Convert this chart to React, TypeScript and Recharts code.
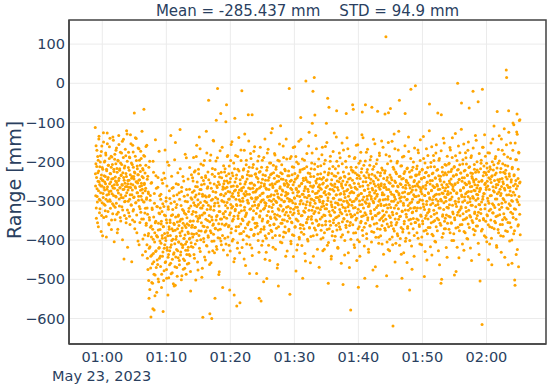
import React from 'react';
import { ScatterChart, Scatter, XAxis, YAxis, CartesianGrid, ReferenceArea } from 'recharts';

// minutes relative to 01:00 (May 23, 2023)
const blockStarts = [-1.1, 4, 9, 14, 19, 24, 29, 34, 39, 44, 49, 54, 59];
const blockEnds = [4, 9, 14, 19, 24, 29, 34, 39, 44, 49, 54, 59, 65.3];

// first pass of samples, one array per block
const r0059 = [
  -113, -262, -205, -318, -240, -171, -289, -356, -228, -196,
  -274, -142, -251, -330, -213, -298, -185, -262, -378, -234,
  -160, -305, -247, -219, -281, -126, -342, -266, -201, -252,
  -311, -238, -178, -296, -392, -223, -270, -154, -245, -327,
  -209, -283, -361, -192, -256, -140, -301, -231, -275, -214,
  -349, -188, -262, -307, -137, -243, -286, -219, -404, -268,
  -181, -316, -249, -205, -290, -165, -334, -227, -259, -372,
  -198, -280, -133, -242, -313, -218, -266, -176, -351, -235,
  -291, -207, -258, -148, -323, -271, -189, -240, -448, -216,
  -302, -255, -168, -287, -230, -345, -121, -263, -199, -418,
];
const r0104 = [
  -248, -301, -176, -265, -222, -339, -190, -284, -131, -257,
  -310, -203, -455, -238, -272, -158, -326, -214, -291, -244,
  -76, -353, -229, -186, -267, -305, -141, -252, -381, -211,
  -279, -233, -165, -298, -247, -412, -196, -263, -320, -225,
  -173, -288, -255, -346, -122, -270, -217, -397, -241, -302,
  -66, -258, -186, -331, -274, -429, -209, -362, -296, -158,
  -318, -446, -237, -389, -281, -503, -548, -342, -199, -417,
  -286, -471, -596, -364, -253, -438, -322, -510, -575, -398,
  -227, -455, -578, -306, -381, -489, -144, -352, -427, -268,
  -533, -391, -315, -462, -240, -374, -506, -331, -419, -287,
];
const r0109 = [
  -402, -318, -467, -283, -359, -521, -246, -388, -441, -307,
  -582, -365, -229, -478, -336, -412, -170, -394, -455, -301,
  -348, -497, -262, -426, -381, -540, -315, -437, -209, -372,
  -463, -294, -355, -418, -133, -486, -337, -401, -268, -449,
  -322, -376, -511, -287, -432, -360, -195, -468, -515, -341,
  -398, -256, -424, -309, -492, -371, -228, -445, -336, -405,
  -279, -463, -352, -118, -389, -430, -312, -501, -265, -377,
  -346, -419, -238, -474, -325, -396, -288, -452, -363, -181,
  -410, -334, -487, -271, -437, -358, -302, -426, -244, -383,
  -459, -319, -397, -215, -440, -351, -530, -292, -416, -367,
];
const r0114 = [
  -296, -362, -241, -418, -327, -189, -385, -274, -446, -311,
  -223, -367, -502, -285, -339, -158, -401, -264, -352, -476,
  -309, -231, -388, -137, -343, -271, -429, -318, -206, -377,
  -259, -495, -336, -283, -597, -312, -248, -404, -365, -197,
  -331, -287, -451, -240, -376, -122, -304, -415, -268, -350,
  -226, -393, -43, -289, -337, -462, -588, -254, -321, -183,
  -381, -298, -600, -349, -217, -427, -276, -359, -147, -402,
  -313, -238, -548, -370, -291, -198, -94, -340, -423, -266,
  -13, -305, -374, -230, -488, -327, -258, -395, -172, -346,
  -77, -283, -412, -241, -359, -301, -521, -264, -333, -210,
];
const r0119 = [
  -287, -341, -226, -395, -268, -312, -98, -359, -55, -249,
  -304, -438, -184, -276, -366, -231, -413, -295, -527, -252,
  -330, -197, -381, -263, -318, -149, -402, -281, -236, -347,
  -290, -455, -540, -218, -89, -325, -272, -376, -243, -309,
  -568, -262, -421, -187, -338, -279, -365, -224, -297, -432,
  -560, -256, -311, -170, -383, -274, -19, -346, -240, -301,
  -399, -265, -218, -448, -324, -129, -287, -369, -251, -335,
  -196, -410, -283, -233, -358, -304, -80, -267, -392, -214,
  -485, -321, -255, -179, -373, -292, -236, -420, -80, -313,
  -268, -343, -207, -388, -259, -302, -162, -357, -277, -231,
];
const r0124 = [
  -275, -332, -485, -218, -364, -291, -243, -401, -312, -186,
  -548, -267, -338, -225, -379, -303, -555, -254, -413, -281,
  -196, -346, -233, -297, -506, -372, -262, -318, -142, -389,
  -247, -306, -431, -270, -498, -214, -355, -289, -168, -327,
  -383, -240, -298, -452, -259, -341, -203, -375, -284, -231,
  -317, -115, -394, -266, -309, -228, -360, -285, -179, -342,
  -256, -423, -301, -213, -370, -274, -236, -336, -462, -290,
  -517, -249, -323, -198, -388, -268, -311, -108, -357, -244,
  -297, -407, -231, -348, -275, -160, -322, -379, -256, -301,
  -219, -366, -287, -441, -248, -329, -193, -283, -352, -264,
];
const r0129 = [
  -281, -338, -224, -372, -13, -296, -538, -250, -319, -403,
  -187, -354, -271, -233, -386, -305, -259, -442, -214, -331,
  -292, -162, -367, -245, -316, -479, -268, -201, -349, -287,
  -412, -236, -325, -276, -148, -393, -262, -308, -221, -360,
  -87, -299, -380, -255, -337, -193, -497, -283, -242, -326,
  -371, -217, -290, -434, -264, -318, 6, -246, -355, -179,
  -302, -398, -270, -229, -341, -286, -125, -368, -253, -311,
  -458, -238, -295, -347, -203, -324, -102, -276, -20, -389,
  -261, -332, 15, -219, -81, -306, -374, -249, -291, -167,
  -351, -280, -423, -232, -318, -264, -193, -360, -297, -243,
];
const r0134 = [
  -288, -346, -231, -397, -270, -315, -182, -362, -257, -427,
  -301, -240, -336, -205, -381, -276, -320, -161, -352, -266,
  -102, -309, -246, -413, -38, -292, -510, -228, -61, -371,
  -283, -335, -199, -362, -257, -448, -310, -230, -389, -271,
  -324, -174, -356, -293, -236, -401, -264, -317, -218, -343,
  -285, -137, -70, -374, -249, -306, -421, -272, -211, -338,
  -297, -366, -243, -190, -329, -281, -392, -256, -310, -152,
  -353, -267, -513, -226, -301, -346, -283, -438, -239, -318,
  -199, -362, -77, -274, -335, -252, -304, -167, -379, -288,
  -231, -326, -470, -260, -297, -355, -578, -214, -341, -276,
];
const r0139 = [
  -278, -339, -55, -226, -66, -382, -301, -255, -419, -189,
  -317, -268, -349, -214, -293, -452, -242, -330, -157, -371,
  -520, -285, -236, -404, -310, -263, -198, -356, -281, -227,
  -340, -131, -73, -297, -388, -251, -318, -209, -367, -273,
  -497, -302, -55, -241, -335, -176, -396, -288, -220, -349,
  -260, -314, -431, -233, -307, -278, -363, -195, -326, -245,
  -289, -405, -61, -268, -342, -219, -301, -143, -380, -256,
  -322, -236, -294, -468, -274, -338, -205, -357, -518, -283,
  -71, -312, -246, -393, -265, -330, -184, -297, -372, -229,
  -308, -261, -344, -216, -410, -279, -325, -163, -351, -243,
];
const r0144 = [
  -284, -336, -229, -78, -375, -265, 119, -310, -491, -247,
  -359, -205, -296, -424, -75, -271, -338, -186, -398, -255,
  -64, -317, -240, -363, -283, -148, -329, -412, -619, -262,
  -301, -219, -377, -290, -167, -346, -253, -408, -311, -231,
  -355, -276, -199, -389, -264, -320, -122, -285, -43, -340,
  -237, -396, -301, -258, -436, -210, -497, -327, -279, -372,
  -243, -311, -186, -358, -290, -225, -77, -403, -268, -334,
  -251, -297, -457, -216, -365, -282, -324, -174, -382, -260,
  -527, -306, -239, -347, -15, -277, -415, -222, -330, -296,
  -263, -371, -201, -318, -441, -248, -289, -355, -6, -234,
];
const r0149 = [
  -272, -325, -218, -381, -256, -304, -170, -349, -287, -232,
  -361, -265, -410, -197, -318, -276, -339, -244, -392, -221,
  -298, -358, -263, -136, -315, -240, -493, -286, -203, -344,
  -269, -375, -227, -309, -451, -252, -331, -184, -368, -281,
  -236, -322, -53, -295, -257, -417, -213, -340, -274, -162,
  -385, -248, -306, -229, -353, -289, -197, -334, -265, -403,
  -241, -312, -178, -366, -283, -222, -344, -262, -76, -301,
  -427, -236, -318, -192, -270, -357, -249, -296, -510, -80,
  -500, -280, -214, -339, -266, -383, -234, -305, -152, -352,
  -274, -228, -371, -291, -209, -336, -258, -444, -283, -317,
];
const r0154 = [
  -264, -318, -206, -372, -249, -297, -164, -341, -280, -225,
  -356, -258, -401, -189, -311, -270, -333, -237, -384, -214,
  -489, -348, -256, -128, -307, -480, -233, -281, -197, -336,
  0, -367, -220, -302, -445, -245, -324, -177, -361, -274,
  -229, -315, -50, -289, -250, -410, -206, -333, -267, -155,
  -378, -241, -299, -222, -346, -282, -190, -327, -258, -396,
  -234, -305, -171, -359, -276, -215, -63, -255, -337, -294,
  -420, -229, -311, -185, -263, -350, -242, -289, -20, -372,
  -247, -273, -207, -332, -259, -376, -227, -298, -145, -345,
  -267, -221, -364, -284, -47, -329, -251, -437, -276, -310,
];
const r0159 = [
  -504, -268, -321, -204, -377, -250, -615, -15, -296, -163,
  -345, -281, -227, -389, -258, -310, -186, -352, -271, -233,
  -404, -216, -338, -262, -300, -450, -241, -325, -178, -366,
  -287, -219, -349, -253, -395, -463, -236, -307, -142, -331,
  -274, -208, -371, -248, -317, -192, -356, -266, -229, -414,
  -295, -72, -338, -259, -204, -381, -277, -134, -322, -245,
  -360, -286, -217, -431, -263, -306, -171, -348, -251, -390,
  -227, -297, -116, -342, -272, -209, -376, -239, 34, 15,
  -318, -260, -188, -355, -463, -70, -284, -231, -402, -265,
  -312, -152, -367, -246, -299, -459, -214, -333, -101, -278,
  -384, -236, -320, -502, -515, -257, -195, -347, -269, -124,
  -78, -424, -303, -243, -361, -176, -289, -95, -334, -252,
];

// second pass, sampled half a step later
const b0059 = [
  -231, -287, -159, -344, -212, -269, -303, -187, -250, -366,
  -224, -135, -296, -258, -320, -201, -279, -243, -174, -337,
  -262, -215, -389, -248, -291, -150, -308, -236, -272, -198,
  -325, -256, -183, -340, -219, -285, -127, -264, -301, -240,
  -209, -358, -276, -162, -297, -230, -319, -252, -186, -373,
  -244, -282, -207, -333, -267, -145, -312, -225, -259, -194,
  -348, -239, -288, -171, -306, -253, -217, -381, -273, -196,
  -329, -248, -156, -295, -222, -267, -342, -203, -284, -234,
  -178, -315, -260, -399, -228, -292, -143, -270, -247, -337,
  -211, -301, -264, -185, -356, -238, -279, -129, -323, -256,
];
const b0104 = [
  -272, -215, -330, -247, -188, -296, -360, -233, -266, -154,
  -311, -242, -284, -207, -349, -259, -175, -322, -238, -290,
  -226, -371, -264, -139, -305, -251, -197, -336, -279, -218,
  -254, -402, -233, -288, -167, -314, -246, -355, -209, -273,
  -329, -192, -261, -297, -238, -438, -280, -221, -346, -184,
  -303, -255, -387, -229, -319, -268, -161, -357, -292, -412,
  -245, -334, -475, -277, -383, -214, -421, -349, -526, -298,
  -367, -441, -255, -392, -508, -318, -460, -372, -199, -434,
  -341, -487, -281, -405, -542, -356, -429, -236, -470, -388,
  -314, -451, -392, -265, -499, -357, -421, -173, -446, -333,
];
const b0109 = [
  -373, -441, -296, -408, -352, -487, -327, -395, -255, -430,
  -366, -503, -314, -421, -383, -242, -457, -338, -401, -292,
  -475, -356, -419, -201, -389, -444, -321, -496, -366, -274,
  -427, -349, -388, -459, -306, -412, -237, -371, -483, -335,
  -398, -266, -436, -357, -517, -302, -409, -375, -151, -443,
  -317, -391, -470, -284, -354, -427, -339, -258, -405, -363,
  -452, -296, -381, -218, -438, -347, -410, -276, -491, -369,
  -322, -413, -357, -448, -249, -396, -331, -472, -387, -301,
  -426, -368, -190, -404, -343, -461, -285, -379, -418, -327,
  -362, -437, -270, -395, -352, -480, -313, -407, -233, -384,
];
const b0114 = [
  -334, -278, -392, -249, -351, -305, -437, -226, -368, -290,
  -410, -263, -329, -187, -383, -314, -252, -456, -297, -345,
  -219, -376, -282, -421, -338, -167, -304, -399, -271, -356,
  -240, -318, -472, -288, -364, -209, -396, -331, -257, -443,
  -301, -379, -236, -347, -290, -414, -178, -322, -367, -264,
  -389, -311, -246, -430, -286, -353, -197, -376, -315, -458,
  -268, -341, -403, -232, -296, -362, -145, -385, -324, -257,
  -432, -306, -220, -371, -278, -349, -416, -261, -337, -190,
  -295, -394, -252, -358, -313, -481, -239, -327, -372, -284,
  -402, -227, -346, -299, -163, -388, -270, -333, -425, -256,
];
const b0119 = [
  -303, -249, -362, -218, -327, -281, -410, -236, -344, -265,
  -187, -318, -392, -254, -296, -363, -211, -335, -277, -428,
  -243, -309, -156, -371, -288, -229, -351, -314, -398, -262,
  -203, -339, -275, -447, -252, -321, -184, -296, -366, -234,
  -312, -263, -407, -219, -345, -286, -138, -330, -272, -384,
  -246, -301, -359, -197, -325, -268, -419, -238, -293, -350,
  -221, -378, -282, -171, -316, -257, -340, -465, -276, -208,
  -331, -389, -244, -298, -361, -225, -306, -147, -354, -283,
  -236, -412, -269, -320, -192, -373, -254, -294, -439, -215,
  -347, -278, -325, -173, -385, -260, -311, -232, -368, -292,
];
const b0124 = [
  -296, -239, -357, -270, -318, -198, -384, -252, -309, -431,
  -227, -341, -286, -163, -326, -263, -372, -214, -298, -351,
  -245, -402, -280, -321, -189, -366, -257, -304, -449, -235,
  -312, -268, -395, -222, -337, -178, -290, -352, -247, -413,
  -271, -314, -203, -362, -288, -233, -345, -126, -301, -378,
  -256, -327, -261, -418, -209, -296, -359, -242, -334, -183,
  -388, -275, -219, -347, -304, -251, -471, -282, -196, -320,
  -366, -238, -293, -155, -339, -264, -405, -228, -313, -284,
  -208, -357, -272, -326, -245, -392, -189, -302, -349, -260,
  -335, -223, -381, -278, -142, -316, -255, -428, -293, -236,
];
const b0129 = [
  -314, -259, -377, -236, -301, -344, -192, -328, -268, -409,
  -247, -299, -356, -213, -335, -279, -164, -321, -388, -252,
  -293, -230, -365, -307, -187, -346, -271, -425, -241, -316,
  -278, -351, -205, -332, -262, -397, -289, -226, -370, -301,
  -143, -338, -256, -414, -283, -219, -362, -307, -248, -385,
  -274, -196, -329, -268, -453, -241, -310, -356, -213, -292,
  -347, -251, -402, -276, -160, -324, -287, -369, -230, -305,
  -262, -391, -218, -340, -296, -178, -357, -265, -315, -441,
  -238, -299, -369, -206, -327, -281, -133, -349, -254, -318,
  -386, -244, -291, -212, -363, -275, -330, -469, -259, -302,
];
const b0134 = [
  -267, -322, -210, -375, -289, -245, -341, -163, -306, -394,
  -254, -313, -279, -423, -226, -337, -196, -361, -284, -248,
  -320, -151, -373, -262, -299, -233, -406, -281, -327, -218,
  -352, -270, -186, -338, -303, -441, -246, -315, -260, -378,
  -212, -293, -348, -275, -127, -329, -257, -390, -305, -237,
  -362, -284, -199, -341, -266, -418, -229, -310, -357, -251,
  -178, -322, -283, -372, -241, -297, -459, -262, -333, -205,
  -386, -249, -316, -170, -345, -276, -237, -401, -291, -326,
  -259, -368, -214, -300, -139, -352, -271, -315, -432, -244,
  -309, -186, -363, -280, -242, -334, -398, -266, -221, -311,
];
const b0139 = [
  -302, -247, -361, -224, -318, -279, -412, -192, -335, -265,
  -229, -381, -296, -158, -344, -270, -233, -399, -287, -321,
  -256, -204, -366, -300, -441, -243, -327, -176, -352, -281,
  -218, -309, -375, -262, -139, -338, -290, -236, -415, -273,
  -330, -198, -357, -251, -306, -384, -227, -296, -168, -343,
  -269, -423, -240, -313, -285, -209, -364, -254, -332, -187,
  -295, -378, -232, -346, -272, -476, -250, -305, -212, -359,
  -280, -154, -337, -262, -393, -241, -317, -288, -195, -371,
  -227, -332, -259, -408, -301, -178, -349, -270, -236, -389,
  -312, -256, -147, -363, -284, -221, -340, -297, -436, -266,
];
const b0144 = [
  -312, -258, -370, -223, -296, -347, -182, -328, -271, -405,
  -240, -318, -289, -151, -366, -253, -309, -427, -234, -342,
  -277, -198, -355, -301, -246, -392, -262, -335, -214, -371,
  -285, -129, -318, -249, -456, -296, -226, -361, -275, -332,
  -203, -384, -262, -305, -170, -347, -281, -238, -413, -293,
  -256, -339, -211, -368, -290, -244, -326, -188, -379, -265,
  -306, -432, -230, -352, -277, -159, -323, -260, -395, -247,
  -341, -218, -296, -370, -254, -312, -137, -349, -281, -226,
  -401, -267, -319, -192, -358, -239, -303, -474, -272, -328,
  -214, -345, -284, -251, -388, -165, -317, -262, -355, -236,
];
const b0149 = [
  -289, -234, -346, -211, -318, -262, -395, -177, -303, -251,
  -365, -226, -297, -144, -336, -270, -243, -412, -282, -219,
  -351, -265, -308, -192, -377, -240, -322, -286, -429, -228,
  -260, -337, -167, -301, -253, -384, -215, -346, -279, -236,
  -327, -121, -292, -368, -248, -310, -202, -356, -273, -438,
  -231, -297, -261, -389, -184, -324, -266, -213, -350, -285,
  -242, -405, -296, -157, -331, -258, -376, -220, -309, -271,
  -348, -196, -283, -463, -245, -318, -237, -362, -172, -300,
  -259, -393, -226, -335, -281, -140, -322, -252, -371, -290,
  -207, -344, -267, -301, -419, -233, -316, -186, -357, -276,
];
const b0154 = [
  -283, -226, -339, -204, -310, -255, -381, -170, -296, -244,
  -357, -219, -290, -139, -328, -263, -236, -401, -274, -212,
  -343, -258, -301, -185, -369, -233, -314, -279, -418, -221,
  -253, -329, -160, -294, -246, -376, -208, -338, -272, -229,
  -319, -117, -285, -360, -241, -303, -195, -348, -266, -426,
  -224, -290, -254, -381, -177, -317, -259, -206, -343, -278,
  -235, -397, -289, -150, -324, -251, -368, -213, -302, -264,
  -341, -189, -276, -452, -238, -311, -230, -355, -165, -293,
  -252, -386, -219, -328, -274, -133, -315, -245, -364, -283,
  -200, -337, -260, -294, -408, -226, -309, -179, -350, -269,
];
const b0159 = [
  -271, -218, -332, -196, -303, -247, -372, -163, -289, -236,
  -348, -211, -282, -131, -320, -255, -228, -393, -266, -204,
  -335, -250, -293, -177, -361, -225, -306, -271, -410, -213,
  -245, -321, -152, -286, -238, -368, -200, -330, -264, -221,
  -311, -109, -277, -352, -233, -295, -187, -340, -258, -418,
  -216, -282, -246, -373, -169, -309, -251, -198, -335, -270,
  -227, -389, -281, -142, -316, -243, -360, -205, -294, -256,
  -333, -181, -268, -444, -230, -303, -222, -347, -157, -285,
  -244, -378, -211, -320, -266, -125, -307, -237, -356, -275,
  -192, -329, -252, -286, -400, -218, -301, -171, -342, -261,
  -106, -233, -376, -285, -152, -321, -248, -437, -195, -297,
  -130, -262, -364, -219, -468, -178, -310, -254, -93, -386,
];

const passA = [r0059, r0104, r0109, r0114, r0119, r0124, r0129, r0134, r0139, r0144, r0149, r0154, r0159];
const passB = [b0059, b0104, b0109, b0114, b0119, b0124, b0129, b0134, b0139, b0144, b0149, b0154, b0159];

const xTicks = [0, 10, 20, 30, 40, 50, 60];
const xTickLabels = ['01:00', '01:10', '01:20', '01:30', '01:40', '01:50', '02:00'];
const yTicks = [-600, -500, -400, -300, -200, -100, 0, 100];

const xDomain: [number, number] = [-5.2, 69.3];
const yDomain: [number, number] = [-665, 161.5];

// samples are evenly spaced in time within each block
const sample = (blocks: number[][], shift: number) =>
  blocks.flatMap((vals, b) => {
    const step = (blockEnds[b] - blockStarts[b]) / vals.length;
    return vals.map((v, i) => ({ t: blockStarts[b] + (i + shift) * step, range: v }));
  });

const data = [...sample(passA, 0), ...sample(passB, 0.5)];

const FONT = '"DejaVu Sans", Verdana, sans-serif';
const TEXT = '#2a3f5f';

const fmtY = (v: number) => (v < 0 ? '\u2212' + Math.abs(v) : String(v));
const fmtX = (v: number) => xTickLabels[xTicks.indexOf(v)] ?? '';

const Dot = (p: any) => <circle cx={p.cx} cy={p.cy} r={1.5} fill="#ffa500" />;

export default function App() {
  return (
    <div style={{ position: 'absolute', left: 0, top: 0, width: 550, height: 389, background: '#fff' }}>
      <ScatterChart width={550} height={389} margin={{ top: 20, right: 4, bottom: 0, left: 0 }}>
        <CartesianGrid stroke="#ebebeb" strokeWidth={1} />
        <XAxis
          type="number"
          dataKey="t"
          domain={xDomain}
          ticks={xTicks}
          tickFormatter={fmtX}
          allowDataOverflow
          height={45}
          tickLine={false}
          tickSize={0}
          tickMargin={8}
          axisLine={{ stroke: '#444', strokeWidth: 1.5 }}
          tick={{ fill: TEXT, fontSize: 14.5, fontFamily: FONT }}
        />
        <YAxis
          type="number"
          dataKey="range"
          domain={yDomain}
          ticks={yTicks}
          tickFormatter={fmtY}
          allowDataOverflow
          width={69}
          tickLine={false}
          tickSize={0}
          tickMargin={4}
          axisLine={{ stroke: '#444', strokeWidth: 1.5 }}
          tick={{ fill: TEXT, fontSize: 14.5, fontFamily: FONT }}
        />
        <ReferenceArea
          x1={xDomain[0]}
          x2={xDomain[1]}
          y1={yDomain[0]}
          y2={yDomain[1]}
          fill="none"
          fillOpacity={0}
          stroke="#444"
          strokeWidth={1.5}
          ifOverflow="visible"
        />
        <Scatter data={data} shape={Dot} isAnimationActive={false} />
      </ScatterChart>
      <svg width={550} height={389} style={{ position: 'absolute', left: 0, top: 0, pointerEvents: 'none' }}>
        <text x={307.5} y={15.5} textAnchor="middle" fontSize={15} fill={TEXT} fontFamily={FONT} style={{ whiteSpace: 'pre' }}>
          {'Mean = -285.437 mm    STD = 94.9 mm'}
        </text>
        <text
          x={0}
          y={0}
          transform="translate(21 180) rotate(-90)"
          textAnchor="middle"
          fontSize={19}
          fill={TEXT}
          fontFamily={FONT}
        >
          Range [mm]
        </text>
        <text x={52} y={381} fontSize={14.5} fill={TEXT} fontFamily={FONT}>
          May 23, 2023
        </text>
      </svg>
    </div>
  );
}
